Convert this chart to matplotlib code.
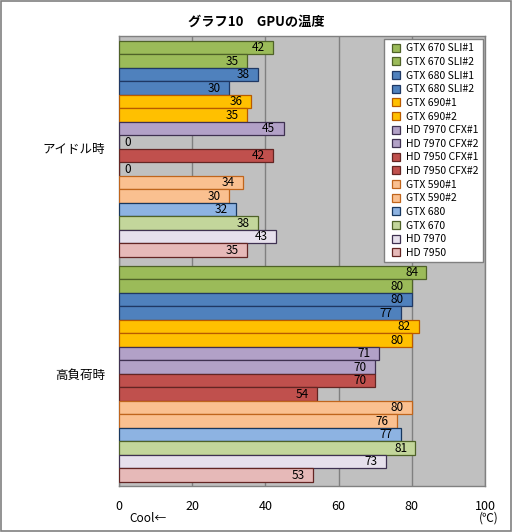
import matplotlib
matplotlib.use("Agg")
import matplotlib.pyplot as plt
from matplotlib.patches import Rectangle
from matplotlib.lines import Line2D
import numpy as np

plt.rcParams['font.family'] = ['Noto Sans CJK JP', 'DejaVu Sans']

categories = ["アイドル時", "高負荷時"]
series = ["GTX 670 SLI#1", "GTX 670 SLI#2", "GTX 680 SLI#1", "GTX 680 SLI#2",
          "GTX 690#1", "GTX 690#2", "HD 7970 CFX#1", "HD 7970 CFX#2",
          "HD 7950 CFX#1", "HD 7950 CFX#2", "GTX 590#1", "GTX 590#2",
          "GTX 680", "GTX 670", "HD 7970", "HD 7950"]
idle = [42, 35, 38, 30, 36, 35, 45, 0, 42, 0, 34, 30, 32, 38, 43, 35]
load = [84, 80, 80, 77, 82, 80, 71, 70, 70, 54, 80, 76, 77, 81, 73, 53]
xticks = [0, 20, 40, 60, 80, 100]

face = ["#9BBB59", "#9BBB59", "#4F81BD", "#4F81BD", "#FFC000", "#FFC000",
        "#B2A1C7", "#B2A1C7", "#C0504D", "#C0504D", "#FAC090", "#FAC090",
        "#8DB3E2", "#C3D69B", "#E6E0EC", "#E6B9B8"]
edge = ["#4F6228", "#4F6228", "#1F3864", "#1F3864", "#B85A00", "#B85A00",
        "#3F3151", "#3F3151", "#632523", "#632523", "#C0651C", "#C0651C",
        "#17375E", "#4F6228", "#3F3151", "#632523"]

fig = plt.figure(figsize=(5.12, 5.32), dpi=100)
fig.patch.set_facecolor("white")
fig.add_artist(Rectangle((0.001, 0.001), 0.997, 0.997, transform=fig.transFigure,
                         fill=False, edgecolor="#808080", linewidth=1.2))

ax = fig.add_axes([119/512, 46/532, 366/512, 450/532])
ax.set_facecolor("#C0C0C0")

n = len(series)
bh = 0.96 / n
values = np.array([idle, load])
for j in range(n):
    ys = np.arange(len(categories)) - 0.48 + bh * (j + 0.5)
    ax.barh(ys, values[:, j], height=bh, color=face[j], edgecolor=edge[j],
            linewidth=0.9, zorder=3)
    for y, v in zip(ys, values[:, j]):
        if v == 0:
            ax.annotate(str(v), (0, y), xytext=(4, -0.5), textcoords="offset points",
                        ha="left", va="center", fontsize=8.5, zorder=4)
        else:
            ax.annotate(str(v), (v, y), xytext=(-6, -0.5), textcoords="offset points",
                        ha="right", va="center", fontsize=8.5, zorder=4)

ax.set_xlim(0, 100)
ax.set_ylim(1.5, -0.5)
ax.set_xticks(xticks)
ax.set_xticklabels([str(t) for t in xticks], fontsize=9)
ax.set_yticks(range(len(categories)))
ax.set_yticklabels(categories, fontsize=9)
ax.tick_params(axis="x", length=0, pad=10)
ax.tick_params(axis="y", length=0, pad=10)
ax.grid(axis="x", color="#808080", linewidth=1, zorder=1)
for s in ax.spines.values():
    s.set_color("#808080")
    s.set_linewidth(1)

handles = [Line2D([], [], marker="s", linestyle="none", markersize=5.5,
                  markerfacecolor=face[j], markeredgecolor=edge[j], markeredgewidth=0.9)
           for j in range(n)]
leg = ax.legend(handles, series, loc="upper right", bbox_to_anchor=(0.994, 0.993),
                fontsize=7.5, frameon=True, fancybox=False, framealpha=1,
                handlelength=1.4, handletextpad=0.3, labelspacing=0.35,
                borderpad=0.4, borderaxespad=0)
leg.get_frame().set_edgecolor("#808080")
leg.get_frame().set_linewidth(1)
leg.set_zorder(5)

fig.text(0.5, 1 - 22/532, "グラフ10　GPUの温度", ha="center", va="center",
         fontsize=9.5, fontweight="bold")
fig.text(129/512, 1 - 518/532, "Cool←", ha="left", va="center", fontsize=8.5)
fig.text(489/512, 1 - 518/532, "(℃)", ha="center", va="center", fontsize=8.5)

fig.savefig("out.png", dpi=100)
